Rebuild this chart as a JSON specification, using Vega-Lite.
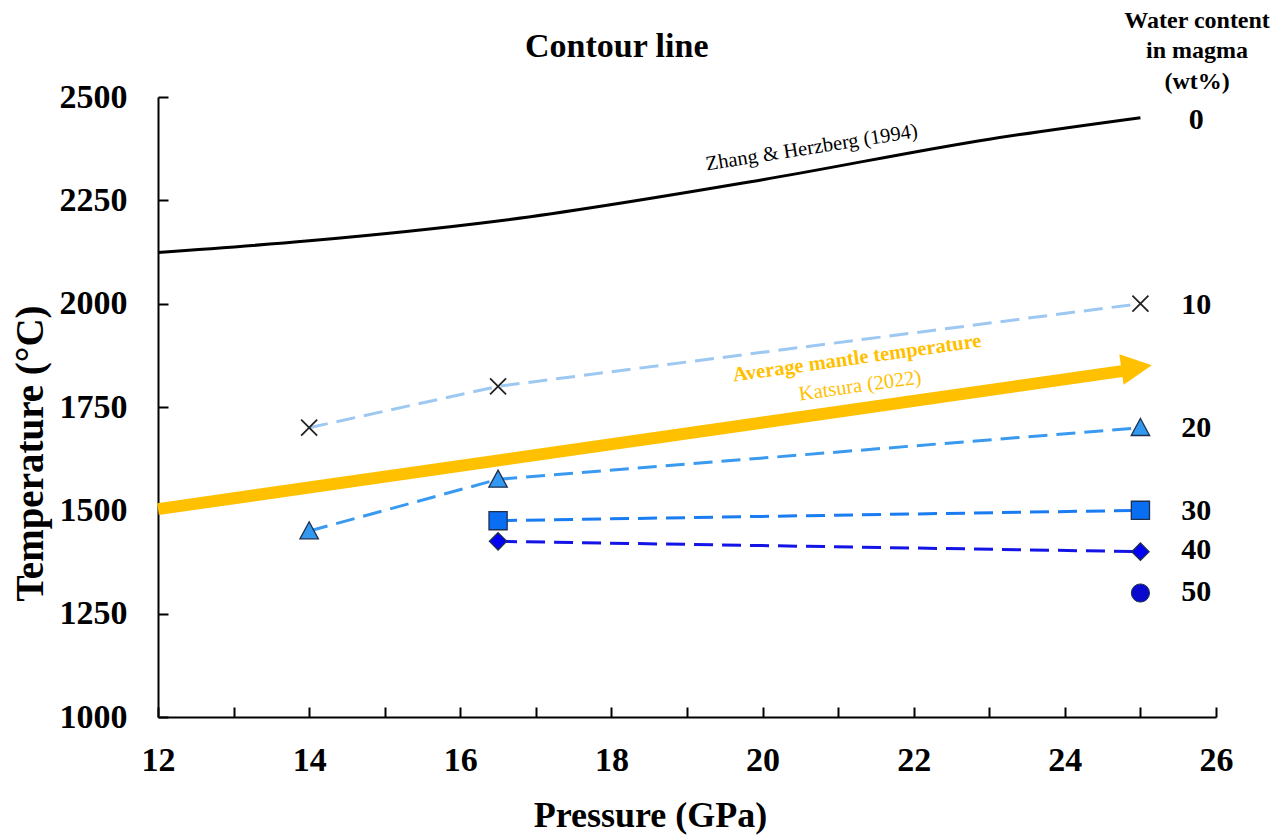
{
  "$schema": "https://vega.github.io/schema/vega-lite/v6.json",
  "width": 1058,
  "height": 620,
  "autosize": {"type": "none"},
  "padding": {"left": 158, "top": 97, "right": 70, "bottom": 119},
  "background": "white",
  "config": {"view": {"stroke": null}, "font": "Liberation Serif"},
  "datasets": {
    "zhang": [
      {"x": 12, "y": 2124},
      {"x": 14, "y": 2152},
      {"x": 16.5, "y": 2200},
      {"x": 20, "y": 2300},
      {"x": 23, "y": 2398},
      {"x": 25, "y": 2450}
    ],
    "pts": [
      {"wt": 10, "x": 14, "y": 1700},
      {"wt": 10, "x": 16.5, "y": 1800},
      {"wt": 10, "x": 25, "y": 2000},
      {"wt": 20, "x": 14, "y": 1450},
      {"wt": 20, "x": 16.5, "y": 1575},
      {"wt": 20, "x": 25, "y": 1700},
      {"wt": 30, "x": 16.5, "y": 1475},
      {"wt": 30, "x": 25, "y": 1500},
      {"wt": 40, "x": 16.5, "y": 1425},
      {"wt": 40, "x": 25, "y": 1400},
      {"wt": 50, "x": 25, "y": 1300}
    ],
    "arrow": [
      {"x": 12, "y": 1503},
      {"x": 24.8, "y": 1838}
    ],
    "arrowhead": [
      {"x": 24.95, "y": 1846}
    ],
    "rightlabels": [
      {"x": 25.74, "y": 2445, "label": "0"},
      {"x": 25.74, "y": 1997, "label": "10"},
      {"x": 25.74, "y": 1699, "label": "20"},
      {"x": 25.74, "y": 1498, "label": "30"},
      {"x": 25.74, "y": 1404, "label": "40"},
      {"x": 25.74, "y": 1302, "label": "50"}
    ],
    "header": [
      {"x": 25.75, "y": 2684, "label": "Water content"},
      {"x": 25.75, "y": 2611, "label": "in magma"},
      {"x": 25.75, "y": 2536, "label": "(wt%)"}
    ],
    "title": [
      {"x": 18.07, "y": 2597, "label": "Contour line"}
    ],
    "zlabel": [
      {"x": 20.65, "y": 2377, "label": "Zhang & Herzberg (1994)"}
    ],
    "mlabel": [
      {"x": 21.25, "y": 1868, "label": "Average mantle temperature"}
    ],
    "klabel": [
      {"x": 21.29, "y": 1801, "label": "Katsura (2022)"}
    ]
  },
  "encoding": {
    "x": {
      "field": "x",
      "type": "quantitative",
      "scale": {"domain": [12, 26], "nice": false, "zero": false},
      "axis": {
        "title": "Pressure (GPa)",
        "values": [12, 13, 14, 15, 16, 17, 18, 19, 20, 21, 22, 23, 24, 25, 26],
        "labelExpr": "datum.value % 2 === 0 ? datum.label : ''",
        "format": "d",
        "grid": false,
        "domainColor": "#000000",
        "domainWidth": 2,
        "tickColor": "#000000",
        "tickWidth": 2,
        "tickSize": -10,
        "labelPadding": 36,
        "labelFont": "Liberation Serif",
        "labelFontSize": 34,
        "labelFontWeight": "bold",
        "labelColor": "#000000",
        "labelFlush": false,
        "labelOverlap": false,
        "titleFont": "Liberation Serif",
        "titleFontSize": 36,
        "titleFontWeight": "bold",
        "titleColor": "#000000",
        "titleBaseline": "alphabetic",
        "titleX": 492,
        "titleY": 109,
        "titleAlign": "center"
      }
    },
    "y": {
      "field": "y",
      "type": "quantitative",
      "scale": {"domain": [1000, 2500], "nice": false, "zero": false},
      "axis": {
        "title": "Temperature (°C)",
        "values": [1000, 1250, 1500, 1750, 2000, 2250, 2500],
        "format": "d",
        "grid": false,
        "domainColor": "#000000",
        "domainWidth": 2,
        "tickColor": "#000000",
        "tickWidth": 2,
        "tickSize": -10,
        "labelPadding": 41,
        "labelFont": "Liberation Serif",
        "labelFontSize": 34,
        "labelFontWeight": "bold",
        "labelColor": "#000000",
        "labelFlush": false,
        "labelOverlap": false,
        "titleFont": "Liberation Serif",
        "titleFontSize": 39,
        "titleFontWeight": "bold",
        "titleColor": "#000000",
        "titleAngle": 270,
        "titleBaseline": "alphabetic",
        "titleAlign": "center",
        "titleX": -116,
        "titleY": 356
      }
    }
  },
  "layer": [
    {
      "data": {"name": "zhang"},
      "mark": {"type": "line", "color": "#000000", "strokeWidth": 3, "interpolate": "monotone"}
    },
    {
      "data": {"name": "arrow"},
      "mark": {"type": "line", "color": "#FFC000", "strokeWidth": 12, "strokeCap": "butt"}
    },
    {
      "data": {"name": "arrowhead"},
      "mark": {"type": "point", "shape": "M-1,-1L1,0L-1,1Z", "filled": true, "color": "#FFC000", "opacity": 1, "size": 940, "angle": 352}
    },
    {
      "data": {"name": "pts"},
      "transform": [{"filter": "datum.wt <= 40"}],
      "mark": {"type": "line", "strokeWidth": 3, "strokeDash": [19, 9]},
      "encoding": {
        "detail": {"field": "wt", "type": "nominal"},
        "color": {
          "field": "wt",
          "type": "nominal",
          "scale": {"domain": [10, 20, 30, 40], "range": ["#9DC8F2", "#3A9AF0", "#1A7CF2", "#1414E6"]},
          "legend": null
        }
      }
    },
    {
      "data": {"name": "pts"},
      "transform": [{"filter": "datum.wt === 10"}],
      "mark": {"type": "point", "shape": "M-1,-1L1,1M-1,1L1,-1", "filled": false, "stroke": "#222222", "strokeWidth": 1.8, "opacity": 1, "size": 256}
    },
    {
      "data": {"name": "pts"},
      "transform": [{"filter": "datum.wt === 20"}],
      "mark": {"type": "point", "shape": "M0,-1L1,0.85L-1,0.85Z", "filled": true, "fill": "#3399F0", "stroke": "#1F2F4F", "strokeWidth": 1.3, "opacity": 1, "size": 340}
    },
    {
      "data": {"name": "pts"},
      "transform": [{"filter": "datum.wt === 30"}],
      "mark": {"type": "point", "shape": "square", "filled": true, "fill": "#0A6EF2", "stroke": "#1F2F4F", "strokeWidth": 1.3, "opacity": 1, "size": 330}
    },
    {
      "data": {"name": "pts"},
      "transform": [{"filter": "datum.wt === 40"}],
      "mark": {"type": "point", "shape": "diamond", "filled": true, "fill": "#0000F5", "stroke": "#1F2F4F", "strokeWidth": 1.3, "opacity": 1, "size": 300}
    },
    {
      "data": {"name": "pts"},
      "transform": [{"filter": "datum.wt === 50"}],
      "mark": {"type": "point", "shape": "circle", "filled": true, "fill": "#0A0ACC", "stroke": "#1F2F4F", "strokeWidth": 1, "opacity": 1, "size": 330}
    },
    {
      "data": {"name": "title"},
      "mark": {"type": "text", "font": "Liberation Serif", "fontSize": 34, "fontWeight": "bold", "color": "#000000", "align": "center", "baseline": "alphabetic"},
      "encoding": {"text": {"field": "label"}}
    },
    {
      "data": {"name": "zlabel"},
      "mark": {"type": "text", "font": "Liberation Serif", "fontSize": 20.5, "color": "#000000", "angle": 351, "align": "center", "baseline": "middle"},
      "encoding": {"text": {"field": "label"}}
    },
    {
      "data": {"name": "mlabel"},
      "mark": {"type": "text", "font": "Liberation Serif", "fontSize": 20.5, "fontWeight": "bold", "color": "#FFC000", "angle": 352, "align": "center", "baseline": "middle"},
      "encoding": {"text": {"field": "label"}}
    },
    {
      "data": {"name": "klabel"},
      "mark": {"type": "text", "font": "Liberation Serif", "fontSize": 20.5, "color": "#FFC000", "angle": 352, "align": "center", "baseline": "middle"},
      "encoding": {"text": {"field": "label"}}
    },
    {
      "data": {"name": "rightlabels"},
      "mark": {"type": "text", "font": "Liberation Serif", "fontSize": 30, "fontWeight": "bold", "color": "#000000", "align": "center", "baseline": "middle"},
      "encoding": {"text": {"field": "label"}}
    },
    {
      "data": {"name": "header"},
      "mark": {"type": "text", "font": "Liberation Serif", "fontSize": 24, "fontWeight": "bold", "color": "#000000", "align": "center", "baseline": "middle"},
      "encoding": {"text": {"field": "label"}}
    }
  ]
}
